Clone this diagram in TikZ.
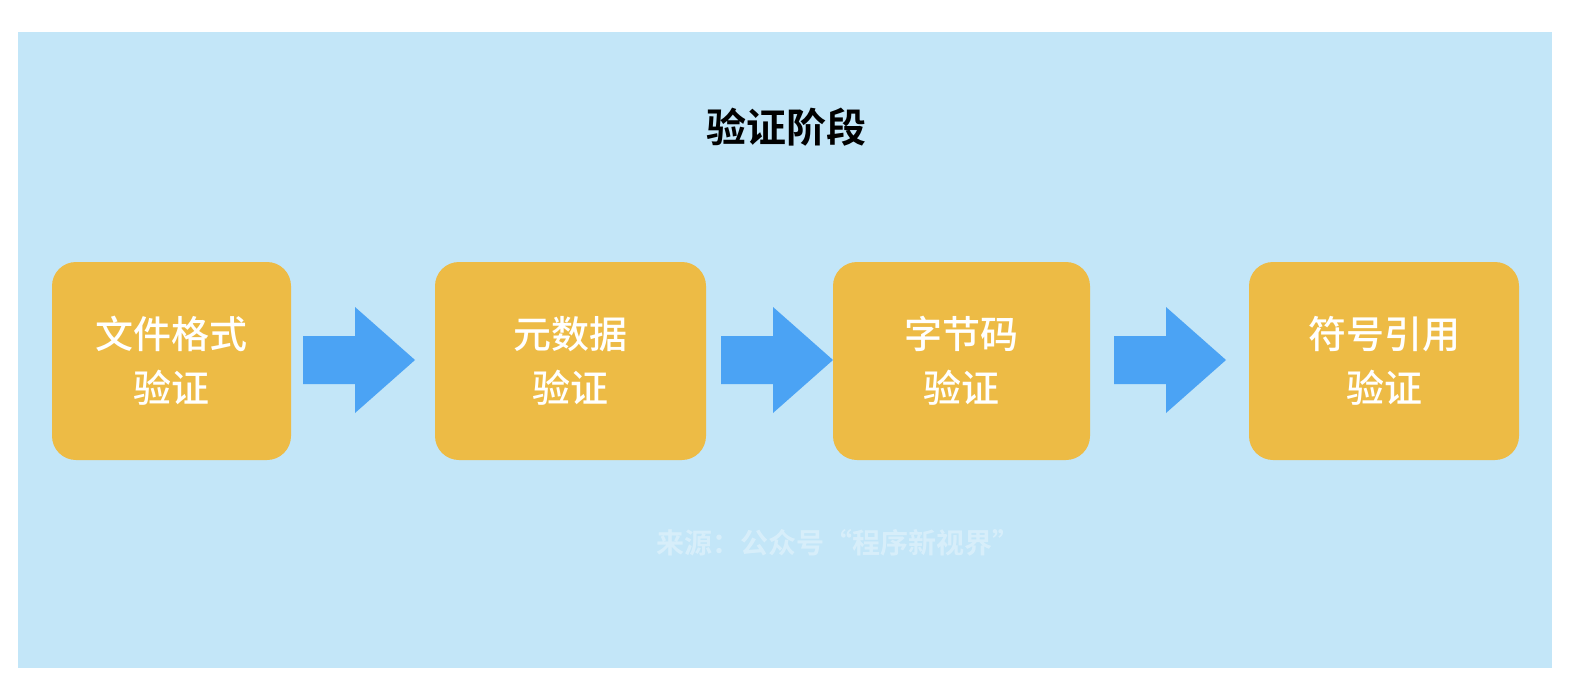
\documentclass[tikz,border=0pt]{standalone}
\usepackage{fontspec}
\newfontfamily\cjk{Noto Sans CJK SC Medium}
\newfontfamily\cjkb{Noto Sans CJK SC Bold}
\definecolor{bg}{HTML}{C3E6F8}
\definecolor{boxc}{HTML}{EDBB45}
\definecolor{arr}{HTML}{4BA3F4}
\begin{document}
\begin{tikzpicture}[x=1pt,y=-1pt,
  stage/.style={fill=boxc,rounded corners=24pt,text=white,align=center,font=\cjk\fontsize{38}{54}\selectfont},
  flow/.style={fill=arr}]
\useasboundingbox (0,0) rectangle (1584,698);
\fill[white] (0,0) rectangle (1584,698);
\fill[bg] (18,32) rectangle (1552,668);
\node[font=\cjkb\fontsize{40}{44}\selectfont] (title) at (786,127) {验证阶段};
\node[stage,minimum width=239pt,minimum height=198pt] (b1) at (171.5,361) {文件格式\\验证};
\node[stage,minimum width=271pt,minimum height=198pt] (b2) at (570.5,361) {元数据\\验证};
\node[stage,minimum width=257pt,minimum height=198pt] (b3) at (961.5,361) {字节码\\验证};
\node[stage,minimum width=270pt,minimum height=198pt] (b4) at (1384,361) {符号引用\\验证};
\foreach \x/\t in {303/415,721/833,1114/1226}{
  \fill[flow] (\x,336) -- (\x+52,336) -- (\x+52,307) -- (\t,360) -- (\x+52,413) -- (\x+52,384) -- (\x,384) -- cycle;
}
\node[text=white,opacity=0.35,font=\cjkb\fontsize{28}{32}\selectfont] (wm) at (838,543) {来源：公众号“程序新视界”};
\end{tikzpicture}
\end{document}
